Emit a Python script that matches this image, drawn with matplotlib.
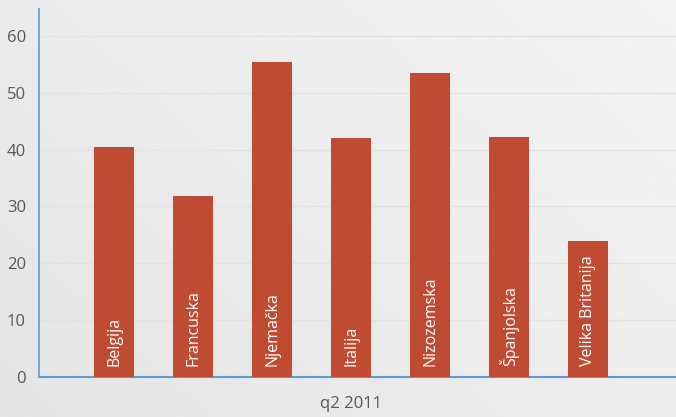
import numpy as np
import matplotlib.pyplot as plt

# data
countries = ['Belgija', 'Francuska', 'Njemačka', 'Italija', 'Nizozemska', 'Španjolska', 'Velika Britanija']
values = [40.5, 31.8, 55.5, 42.1, 53.5, 42.3, 24.0]
yticks = [0, 10, 20, 30, 40, 50, 60]
category = 'q2 2011'

fig = plt.figure(figsize=(6.76, 4.17), dpi=100)

# background gradient (light grey, lighter towards top right)
bg = fig.add_axes([0, 0, 1, 1])
xx, yy = np.meshgrid(np.linspace(0, 1, 300), np.linspace(0, 1, 200))
shade = 0.895 + 0.06 * (0.6 * xx + 0.4 * yy)
bg.imshow(shade, cmap='gray', vmin=0, vmax=1, origin='lower', aspect='auto', extent=[0, 1, 0, 1])
bg.axis('off')

ax = fig.add_axes([38.5 / 676, 40 / 417, 1 - 38.5 / 676, 368 / 417])
ax.patch.set_alpha(0)
x = np.arange(len(countries))
ax.bar(x, values, width=0.506, color='#BE4B32', zorder=3)

for xi, name in zip(x, countries):
    ax.text(xi, 2.0, name, rotation=90, ha='center', va='bottom', color='white',
            fontsize=11.5, family='Open Sans', zorder=4)

ax.set_xlim(-0.956, 7.11)
ax.set_ylim(0, 64.75)
ax.set_yticks(yticks)
ax.tick_params(axis='y', length=0, labelsize=12, labelcolor='#595959', pad=9)
ax.set_xticks([])
for lbl in ax.get_yticklabels():
    lbl.set_family('Open Sans')
ax.grid(axis='y', color='#e2e2e2', linewidth=1, zorder=0)

for s in ['top', 'right']:
    ax.spines[s].set_visible(False)
ax.spines['left'].set_color('#5B9BD5')
ax.spines['bottom'].set_color('#5B9BD5')
ax.spines['left'].set_linewidth(1.2)
ax.spines['bottom'].set_linewidth(1.5)

fig.text(351 / 676, 1 - 404 / 417, category, ha='center', va='center',
         fontsize=12, color='#595959', family='Open Sans')

fig.savefig('out.png', dpi=100)
